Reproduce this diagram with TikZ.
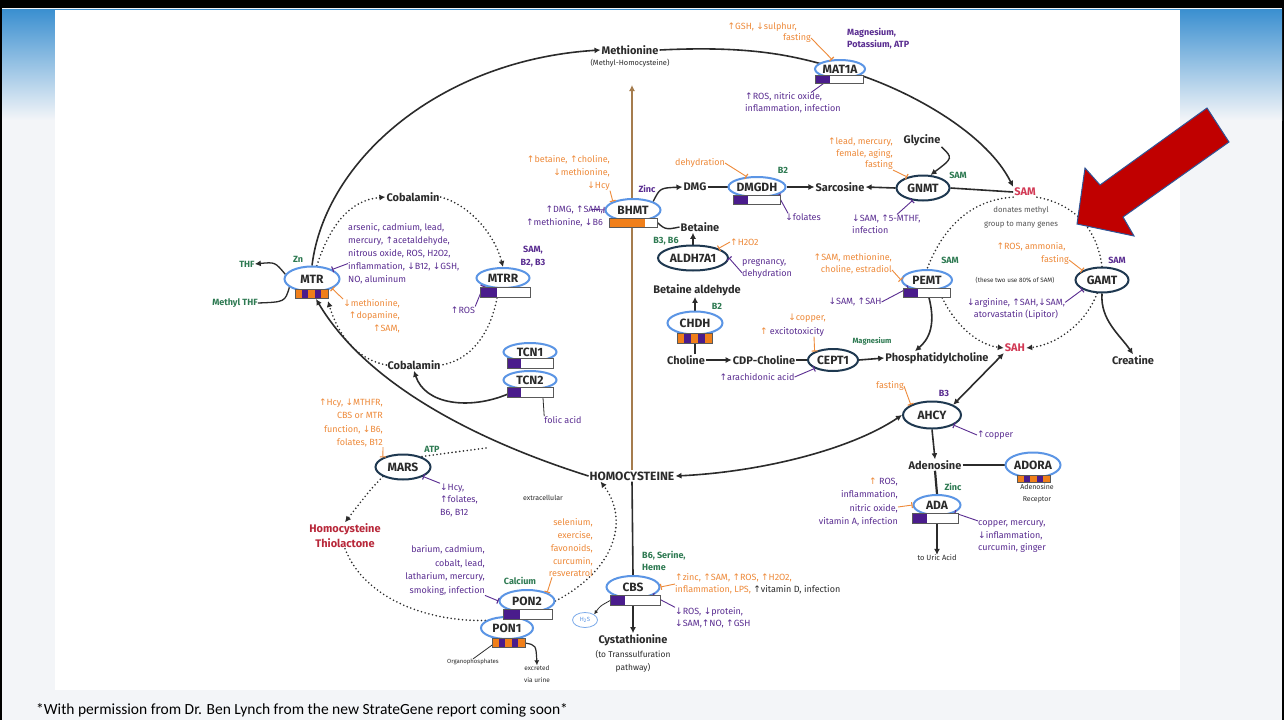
\documentclass[tikz,border=0pt]{standalone}
\usepackage{fontspec}
\setmainfont{Fira Sans}
\newfontfamily\arrf{DejaVu Sans}
\newfontfamily\calib{Carlito}
\usetikzlibrary{arrows.meta,shapes.geometric}
\pgfdeclarelayer{bgslide}
\pgfdeclarelayer{links}
\pgfsetlayers{bgslide,links,main}
\newcommand\myup{{\arrf\char"2191}}
\newcommand\mydn{{\arrf\char"2193}}
\definecolor{pur}{HTML}{5A2D91}
\definecolor{org}{HTML}{EE8A3A}
\definecolor{grn}{HTML}{2E7A52}
\definecolor{lblue}{HTML}{5B95E5}
\definecolor{navy}{HTML}{1E3850}
\definecolor{barpur}{HTML}{4A1C8C}
\definecolor{barorg}{HTML}{F07F1A}
\definecolor{redt}{HTML}{D23A55}
\definecolor{redc}{HTML}{B8283A}
\definecolor{brn}{HTML}{A57C4E}
\definecolor{txt}{HTML}{2B2B2B}
\definecolor{slidebg}{HTML}{F3F5F8}
\definecolor{hdr}{HTML}{3A8FD0}
\definecolor{redarrow}{HTML}{C00000}
\definecolor{arrowedge}{HTML}{2F5496}
\newcommand\genebar[5]{%
  \fill[white] (#1,#2) rectangle (#3,#4);
  \fill[barpur] (#1,#2) rectangle (#5,#4);
  \draw[barline] (#1,#2) rectangle (#3,#4);}
\newcommand\stripebar[4]{%
  \foreach \i/\c in {0/barorg,1/barpur,2/barorg,3/barpur,4/barorg}{%
    \fill[\c] ({#1+(#3-#1)*\i/5},#2) rectangle ({#1+(#3-#1)*(\i+1)/5},#4);}
  \draw[barline] (#1,#2) rectangle (#3,#4);}
\tikzset{
 lbl/.style={inner sep=0pt, font=\fontsize{9}{13}\selectfont, align=center},
 pl/.style={lbl, text=pur},
 ol/.style={lbl, text=org},
 gl/.style={inner sep=0pt, font=\fontsize{9}{12}\selectfont\bfseries, text=grn, align=center},
 cof/.style={inner sep=0pt, font=\fontsize{9}{13}\selectfont\bfseries, text=pur, align=center},
 tiny/.style={inner sep=0pt, font=\fontsize{7}{12}\selectfont, text=txt, align=center},
 met/.style={inner sep=1pt, font=\fontsize{11}{15}\selectfont\bfseries, text=txt, align=center},
 enz/.style={ellipse, draw=lblue, line width=2pt, fill=white, inner xsep=-14pt, inner ysep=-3pt, font=\fontsize{12}{12}\selectfont\bfseries, text=txt},
 enzd/.style={enz, draw=navy},
 flow/.style={draw=txt, line width=1.6pt, -{Latex[length=6pt,width=6pt]}},
 bond/.style={draw=txt, line width=1.6pt},
 dline/.style={draw=txt, line width=1.8pt, line cap=round, dash pattern=on 0pt off 3.8pt},
 dflow/.style={dline, -{Latex[length=6pt,width=6pt]}},
 pinh/.style={draw=pur, line width=0.9pt, -{Bar[width=6pt,line width=1.1pt]}},
 oinh/.style={draw=org, line width=0.9pt, -{Bar[width=6pt,line width=1.1pt]}},
 barline/.style={draw=black!65, line width=0.6pt},
}
\begin{document}
\begin{tikzpicture}[x=1pt,y=-1pt]
\useasboundingbox (0,0) rectangle (1284,720);
\begin{pgfonlayer}{bgslide}
\fill[black] (0,0) rectangle (1284,720);
\fill[slidebg] (2,8) rectangle (1282,720);
\shade[top color=hdr, bottom color=slidebg] (2,9) rectangle (1282,120);
\fill[white] (55,10) rectangle (1180,690);
\end{pgfonlayer}

% ---------- top ----------
\node[met] (met) at (630,50) {Methionine};
\node[tiny, font=\fontsize{7.5}{9}\selectfont] (metsub) at (630,63) {(Methyl-Homocysteine)};
\node[enz, minimum width=50pt, minimum height=18pt] (mat) at (840,69) {MAT1A};
\node[ol, anchor=east] (matu1) at (797,27) {\myup GSH, \mydn sulphur,};
\node[ol] (matu2) at (797,38) {fasting};
\node[cof, anchor=west, align=left, font=\fontsize{9}{12}\selectfont\bfseries] (matc) at (847,39) {Magnesium,\\Potassium, ATP};
\node[pl, anchor=west, align=left, font=\fontsize{9}{12}\selectfont] (matd) at (745,103) {\myup ROS, nitric oxide,\\inflammation, infection};

% ---------- GNMT ----------
\node[met] (gly) at (922,140) {Glycine};
\node[enzd, minimum width=53pt, minimum height=25pt] (gnmt) at (923,188) {GNMT};
\node[gl] (gsam) at (958,175) {SAM};
\node[met, text=redt] (sam) at (1025,192) {SAM};
\node[met] (sarc) at (840,187) {Sarcosine};
\node[ol, anchor=east, align=right, font=\fontsize{9}{11.5}\selectfont] (gnu) at (893,154) {\myup lead, mercury,\\female, aging,\\fasting};
\node[pl, anchor=west, align=left, font=\fontsize{9}{12}\selectfont] (gnd) at (852,224) {\mydn SAM, \myup 5-MTHF,\\infection};

% ---------- DMGDH / BHMT ----------
\node[enz, minimum width=57pt, minimum height=20pt] (dmgdh) at (757,187) {DMGDH};
\node[met] (dmg) at (695,187) {DMG};
\node[gl] (db2) at (783,170) {B2};
\node[ol] (ddeh) at (700,163) {dehydration};
\node[pl] (dfol) at (803,217) {\mydn folates};
\node[enz, minimum width=55pt, minimum height=22pt] (bhmt) at (633,210) {BHMT};
\node[cof] (zinc) at (647,189) {Zinc};
\node[ol, anchor=east, align=right] (bu) at (610,173) {\myup betaine, \myup choline,\\\mydn methionine,\\\mydn Hcy};
\node[pl, anchor=east, align=right] (bd) at (603,216) {\myup DMG, \myup SAM,\\\myup methionine, \mydn B6};
\node[met] (bet) at (700,227) {Betaine};
\node[enzd, minimum width=70pt, minimum height=25pt] (aldh) at (693,258) {ALDH7A1};
\node[gl] (ab) at (666,241) {B3, B6};
\node[ol, anchor=west] (ah) at (730,242) {\myup H2O2};
\node[pl, anchor=west, align=left, font=\fontsize{9}{12}\selectfont] (ad) at (742,269) {pregnancy,\\dehydration};
\node[met] (bald) at (697,290) {Betaine aldehyde};
\node[enz, minimum width=55pt, minimum height=23pt] (chdh) at (695,323) {CHDH};
\node[gl] (cb2) at (717,306) {B2};
\node[met] (chol) at (686,360) {Choline};
\node[met] (cdp) at (764,360) {CDP-Choline};
\node[enzd, minimum width=50pt, minimum height=22pt] (cept) at (833,360) {CEPT1};
\node[met] (pc) at (937,358) {Phosphatidylcholine};
\node[gl, font=\fontsize{7.5}{9}\selectfont\bfseries] (cmg) at (872,341) {Magnesium};
\node[ol] (cu1) at (807,318) {\mydn copper,};
\node[pl] (cu2) at (792,332) {{\color{org}\myup} excitotoxicity};
\node[pl] (cd) at (757,377) {\myup arachidonic acid};

% ---------- PEMT / GAMT ----------
\node[enz, minimum width=50pt, minimum height=20pt] (pemt) at (927,280) {PEMT};
\node[gl] (psam) at (950,260) {SAM};
\node[ol, anchor=east, align=right, font=\fontsize{9}{12}\selectfont] (pu) at (892,264) {\myup SAM, methionine,\\choline, estradiol};
\node[pl] (pd) at (855,302) {\mydn SAM, \myup SAH};
\node[lbl, font=\fontsize{6.3}{8}\selectfont, text=txt] (note) at (1015,280) {(these two use 80\% of SAM)};
\node[enzd, minimum width=53pt, minimum height=25pt] (gamt) at (1102,280) {GAMT};
\node[cof] (gsam2) at (1117,260) {SAM};
\node[ol] (gu1) at (1031,247) {\myup ROS, ammonia,};
\node[ol] (gu2) at (1055,260) {fasting};
\node[pl, font=\fontsize{9}{12}\selectfont] (gd) at (1016,309) {\mydn arginine, \myup SAH,\mydn SAM,\\atorvastatin (Lipitor)};
\node[met] (crea) at (1133,360) {Creatine};
\node[met, text=redt] (sah) at (1015,348) {SAH};
\node[lbl, text=txt!80, font=\fontsize{7.8}{14}\selectfont] (don) at (1021,217) {donates methyl\\group to many genes};

% ---------- AHCY / ADA ----------
\node[enzd, minimum width=58pt, minimum height=27pt] (ahcy) at (932,415) {AHCY};
\node[cof] (ab3) at (944,393) {B3};
\node[ol] (af) at (890,386) {fasting};
\node[pl, anchor=west] (acu) at (977,435) {\myup copper};
\node[met] (ado) at (935,465) {Adenosine};
\node[enz, minimum width=55pt, minimum height=25pt] (adora) at (1033,465) {ADORA};
\node[tiny] (adr) at (1037,494) {Adenosine\\Receptor};
\node[enz, minimum width=47pt, minimum height=20pt] (ada) at (937,505) {ADA};
\node[gl] (azn) at (953,487) {Zinc};
\node[tiny, font=\fontsize{7.5}{9}\selectfont] (uric) at (937,558) {to Uric Acid};
\node[pl, anchor=east, align=right, font=\fontsize{9}{13.5}\selectfont] (adl) at (898,502) {{\color{org}\myup} ROS,\\inflammation,\\nitric oxide,\\vitamin A, infection};
\node[pl, anchor=west, align=left, font=\fontsize{9}{12.5}\selectfont] (adrr) at (978,537) {copper, mercury,\\\mydn inflammation,\\curcumin, ginger};

% ---------- HCY / CBS ----------
\node[met, font=\fontsize{12}{12}\selectfont\bfseries] (hcy) at (632,476) {HOMOCYSTEINE};
\node[enz, minimum width=53pt, minimum height=22pt] (cbs) at (633,587) {CBS};
\node[gl, anchor=west, align=left] (cbsc) at (642,561) {B6, Serine,\\Heme};
\node[ellipse, draw=lblue!80, line width=0.8pt, fill=white, minimum width=25pt, minimum height=15pt, inner sep=0pt, font=\fontsize{6}{6}\selectfont, text=lblue] (h2s) at (585,620) {H\textsubscript{2}S};
\node[met] (cyst) at (633,640) {Cystathionine};
\node[lbl, text=txt, font=\fontsize{8.4}{13}\selectfont] (cystn) at (633,661.5) {(to Transsulfuration\\pathway)};
\node[ol, anchor=west, align=left, font=\fontsize{9}{12}\selectfont] (cbsu) at (675,584) {\myup zinc, \myup SAM, \myup ROS, \myup H2O2,\\inflammation, LPS, {\color{txt}\myup vitamin D, infection}};
\node[pl, anchor=west, align=left, font=\fontsize{9}{11.5}\selectfont] (cbsd) at (675,617.5) {\mydn ROS, \mydn protein,\\\mydn SAM,\myup NO, \myup GSH};

% ---------- MARS / PON ----------
\node[enzd, minimum width=55pt, minimum height=25pt] (mars) at (403,467) {MARS};
\node[gl] (atp) at (432,449) {ATP};
\node[ol, anchor=east, align=right, font=\fontsize{9}{13.3}\selectfont] (mu) at (383,423) {\myup Hcy, \mydn MTHFR,\\CBS or MTR\\function, \mydn B6,\\folates, B12};
\node[pl, anchor=west, align=left, font=\fontsize{9}{12.5}\selectfont] (md) at (440,500) {\mydn Hcy,\\\myup folates,\\B6, B12};
\node[met, text=redc] (htl) at (345,535.5) {Homocysteine\\Thiolactone};
\node[tiny] (extra) at (543,498) {extracellular};
\node[pl, anchor=east, align=right, font=\fontsize{9}{13.5}\selectfont] (pond) at (485,570.5) {barium, cadmium,\\cobalt, lead,\\latharium, mercury,\\smoking, infection};
\node[gl] (calc) at (520,581) {Calcium};
\node[enz, minimum width=55pt, minimum height=22pt] (pon2) at (527,601) {PON2};
\node[enz, minimum width=52pt, minimum height=22pt] (pon1) at (507,628) {PON1};
\node[tiny, font=\fontsize{6}{8}\selectfont] (orgp) at (473,662) {Organophosphates};
\node[tiny, font=\fontsize{6.5}{12}\selectfont] (excr) at (537,674) {excreted\\via urine};
\node[ol, anchor=east, align=right, font=\fontsize{9}{12.75}\selectfont] (ponu) at (593,548) {selenium,\\exercise,\\favonoids,\\curcumin,\\resveratrol};

% ---------- MTR ----------
\node[enz, minimum width=55pt, minimum height=25pt] (mtr) at (312,279) {MTR};
\node[gl] (zn) at (298,259) {Zn};
\node[gl] (thf) at (247,264) {THF};
\node[gl] (mthf) at (235,303) {Methyl THF};
\node[pl, anchor=west, align=left] (mtrd) at (348,254) {arsenic, cadmium, lead,\\mercury, \myup acetaldehyde,\\nitrous oxide, ROS, H2O2,\\inflammation, \mydn B12, \mydn GSH,\\NO, aluminum};
\node[ol, anchor=east, align=right, font=\fontsize{9}{12.5}\selectfont] (mtru) at (400,316) {\mydn methionine,\\\myup dopamine,\\\myup SAM,};
\node[met] (cob1) at (413,197) {Cobalamin};
\node[met] (cob2) at (414,365) {Cobalamin};
\node[enz, minimum width=53pt, minimum height=20pt] (mtrr) at (503,278) {MTRR};
\node[cof] (mtrrc) at (533,256.5) {SAM,\\B2, B3};
\node[pl] (mtrrd) at (463,310) {\myup ROS};
\node[enz, minimum width=53pt, minimum height=18pt] (tcn1) at (530,352) {TCN1};
\node[enz, minimum width=53pt, minimum height=18pt] (tcn2) at (530,380) {TCN2};
\node[pl] (fol) at (563,420) {folic acid};

\coordinate (brtop) at (632,85);
\coordinate (mtrb) at (316,299);
\coordinate (mtrbr) at (328,301);
\coordinate (tcnb) at (508,394);
\coordinate (marsd) at (486,448);

% ---------- connectors ----------
\begin{pgfonlayer}{links}
\draw[flow] (mtr.north) .. controls (325,160) and (440,60) .. (met.west);
\draw[flow] (met.east) .. controls (760,45) and (800,58) .. (mat.center) .. controls (900,85) and (985,130) .. (sam.north west);
\draw[flow, line width=1.4pt] (gly.south east) .. controls (953,158) .. (gnmt.60);
\draw[bond] (sam.west) -- (gnmt.east);
\draw[flow] (gnmt.west) -- (sarc.east);
\draw[flow] (dmgdh.east) -- (sarc.west);
\draw[bond] (dmg.east) -- (dmgdh.west);
\draw[flow, line width=1.4pt] (bhmt.north east) .. controls (660,188) .. (dmg.west);
\draw[bond, line width=1.4pt] (bhmt.south east) .. controls (665,230) .. (bet.west);
\draw[flow] (aldh.north) -- (aldh.north |- bet.south);
\draw[flow] (chdh.north) -- (chdh.north |- bald.south);
\draw[bond] (chdh.south) -- (chdh.south |- chol.north);
\draw[flow] (chol.east) -- (cdp.west);
\draw[bond] (cdp.east) -- (cept.west);
\draw[flow] (cept.east) -- (pc.west);
\draw[flow] (pemt.south) .. controls (938,325) and (928,340) .. ([xshift=-22pt]pc.north);
\draw[flow] (gamt.south) .. controls (1100,320) and (1120,335) .. (crea.north);
\draw[dline] (sam.south west) .. controls (965,200) and (940,235) .. (pemt.north);
\draw[dline] (sam.south east) .. controls (1080,205) and (1098,235) .. (gamt.north);
\draw[dflow] ([xshift=12pt]pemt.south) .. controls (955,328) and (980,345) .. (sah.west);
\draw[dflow] (gamt.250) .. controls (1085,325) and (1055,345) .. (sah.east);
\draw[bond, {Latex[length=6pt,width=6pt]}-{Latex[length=6pt,width=6pt]}] (sah.south west) -- (ahcy.north east);
\draw[flow] (ahcy.south) -- (ado.north);
\draw[bond, line width=2.6pt] (ado.east) -- (adora.west);
\draw[bond, line width=2.2pt] (ado.south) -- (ada.north);
\draw[flow] (ada.south) -- (uric.north);
\draw[bond, {Latex[length=6pt,width=6pt]}-{Latex[length=6pt,width=6pt]}] (hcy.east) .. controls (760,472) and (850,450) .. (ahcy.west);
\draw[flow] (hcy.west) .. controls (490,445) and (370,390) .. (mtrb);
\draw[draw=brn, line width=1.6pt, -{Latex[length=6pt,width=6pt]}] (hcy.north) -- (brtop);
\draw[bond] (hcy.south) -- (cbs.north);
\draw[flow] (cbs.south) -- (cyst.north);
\draw[draw=txt, line width=0.8pt, -{Latex[length=4pt,width=4pt]}] ([xshift=-20pt]cbs.south) .. controls (600,606) .. (h2s.north east);
\draw[dline] (marsd) -- (mars.30);
\draw[dflow] (mars.south west) .. controls (370,490) .. (htl.north);
\draw[dline] (htl.south) .. controls (365,600) and (430,622) .. (pon1.160);
\draw[dflow] (pon2.east) .. controls (615,570) and (630,520) .. ([xshift=12pt]hcy.south west);
\draw[draw=txt, line width=0.8pt] ([xshift=-8pt]pon1.south) -- (orgp.north);
\draw[draw=txt, line width=1.2pt, -{Latex[length=5pt,width=5pt]}] ([xshift=18pt,yshift=-3pt]pon1.south) .. controls (536,645) .. (excr.north);
\draw[dflow] (mtr.70) .. controls (330,225) and (350,200) .. (cob1.west);
\draw[dflow] (cob1.east) .. controls (470,205) and (495,235) .. (mtrr.north);
\draw[dline] ([xshift=-6pt,yshift=-9pt]mtrr.south) .. controls (490,335) and (470,360) .. (cob2.east);
\draw[dflow] (cob2.west) .. controls (350,358) and (335,325) .. (mtrbr);
\draw[flow] (tcnb) .. controls (470,410) and (425,405) .. (cob2.south);
\draw[draw=txt, line width=0.8pt] ([xshift=13pt,yshift=-8pt]tcn2.south) -- (fol.north west);
\draw[flow, line width=1.3pt] (mtr.170) .. controls (275,262) .. (thf.east);
\draw[bond, line width=1.3pt] (mthf.east) .. controls (285,302) .. (mtr.200);
\end{pgfonlayer}

% ---------- inhibitors / activators ----------
\draw[oinh] (matu2.east) -- (mat.130);
\draw[pinh] ([xshift=66pt]matd.north west) -- (mat.225);
\draw[oinh] (gnu.south east) -- (gnmt.145);
\draw[pinh] ([xshift=45pt]gnd.north west) -- (gnmt.230);
\draw[oinh] (ddeh.east) -- (dmgdh.135);
\draw[pinh] ([xshift=3pt]dfol.north west) -- (dmgdh.south east);
\draw[oinh] (bu.south east) -- (bhmt.north west);
\draw[pinh] ([xshift=-12pt,yshift=-4pt]bd.north east) -- (bhmt.west);
\draw[oinh] (ah.west) -- (aldh.north east);
\draw[pinh] ([yshift=6pt]ad.south west) -- (aldh.east);
\draw[oinh] ([xshift=22pt]cu2.south) -- (cept.north west);
\draw[pinh] (cd.east) -- (cept.south west);
\draw[oinh] ([yshift=-6pt]pu.east) -- (pemt.west);
\draw[pinh] (pd.east) -- (pemt.south west);
\draw[oinh] (gu2.east) -- (gamt.north west);
\draw[pinh] ([yshift=-4pt]gd.north east) -- (gamt.south west);
\draw[oinh] (af.east) -- (ahcy.north west);
\draw[pinh] (acu.west) -- (ahcy.-25);
\draw[oinh] ([yshift=-5pt]adl.east) -- (ada.west);
\draw[pinh] (adrr.north west) -- (ada.south east);
\draw[oinh] (cbsu.west) -- (cbs.east);
\draw[pinh] (cbsd.north west) -- (cbs.south east);
\draw[oinh] (mu.south east) -- (mars.north west);
\draw[pinh] (md.north west) -- (mars.south east);
\draw[pinh] (pond.south east) -- (pon2.west);
\draw[oinh] ([xshift=-41pt]ponu.south east) -- (pon2.north east);
\draw[pinh] ([yshift=-40pt]mtrd.north west) -- (mtr.north east);
\draw[oinh] (mtru.north west) -- (mtr.south east);
\draw[pinh] (mtrrd.north east) -- (mtrr.south west);

% ---------- gene bars ----------
\genebar{815}{75}{863}{83}{830}
\genebar{733}{195}{780}{204}{748}
\fill[white] (609,218) rectangle (657,227);
\fill[barorg] (609,218) rectangle (645,227);
\draw[barline] (609,218) rectangle (657,227);
\genebar{903}{288}{950}{297}{918}
\genebar{480}{287}{530}{297}{497}
\genebar{507}{358}{553}{368}{521}
\genebar{507}{387}{553}{397}{521}
\genebar{610}{595}{660}{605}{625}
\genebar{912}{513}{958}{523}{927}
\genebar{503}{609}{552}{619}{520}
\stripebar{295}{289}{328}{298}
\stripebar{677}{333}{712}{343}
\stripebar{492}{638}{525}{647}
\stripebar{1017}{475}{1050}{482}

% ---------- red arrow ----------
\filldraw[fill=redarrow, draw=arrowedge, line width=1pt, line join=miter] (1077,224) -- (1085,168) -- (1100,185) -- (1207,108) -- (1229,142) -- (1123,217) -- (1134,236) -- cycle;

\node[anchor=west, inner sep=0pt, font=\calib\fontsize{15.5}{17}\selectfont, text=black] (perm) at (36,710) {*With permission from Dr. Ben Lynch from the new StrateGene report coming soon*};
\end{tikzpicture}
\end{document}
